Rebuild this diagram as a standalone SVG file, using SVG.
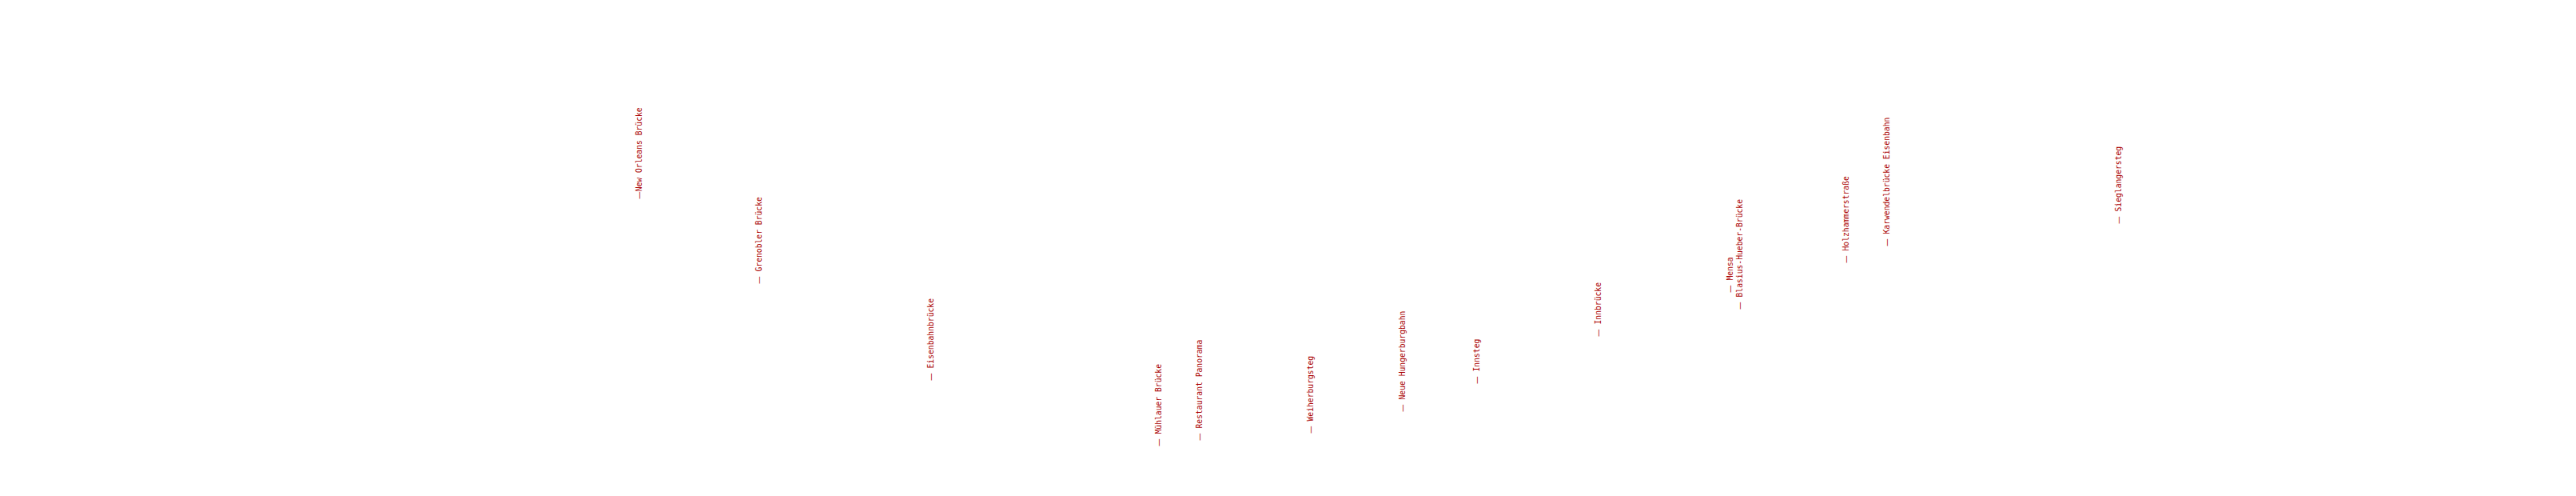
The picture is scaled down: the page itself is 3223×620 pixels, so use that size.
<svg xmlns="http://www.w3.org/2000/svg" width="3223" height="620" viewBox="0 0 3223 620">
<style>
.lbl{font-family:"DejaVu Sans Mono","Liberation Mono",monospace;font-size:9.7px;fill:#aa0000}
.d{font-family:"DejaVu Sans","Liberation Sans",sans-serif}
</style>
<rect width="3223" height="620" fill="#ffffff"/>
<g id="labels">
<g id="new-orleans-bruecke"><text class="lbl" transform="translate(803,249) rotate(-90)"><tspan class="d">—</tspan>New Orleans Brücke</text></g>
<g id="grenobler-bruecke"><text class="lbl" transform="translate(953,355) rotate(-90)"><tspan class="d">—</tspan> Grenobler Brücke</text></g>
<g id="eisenbahnbruecke"><text class="lbl" transform="translate(1168,476) rotate(-90)"><tspan class="d">—</tspan> Eisenbahnbrücke</text></g>
<g id="muehlauer-bruecke"><text class="lbl" transform="translate(1453,558) rotate(-90)"><tspan class="d">—</tspan> Mühlauer Brücke</text></g>
<g id="restaurant-panorama"><text class="lbl" transform="translate(1504,551) rotate(-90)"><tspan class="d">—</tspan> Restaurant Panorama</text></g>
<g id="weiherburgsteg"><text class="lbl" transform="translate(1643,542) rotate(-90)"><tspan class="d">—</tspan> Weiherburgsteg</text></g>
<g id="neue-hungerburgbahn"><text class="lbl" transform="translate(1758,515) rotate(-90)"><tspan class="d">—</tspan> Neue Hungerburgbahn</text></g>
<g id="innsteg"><text class="lbl" transform="translate(1851,480) rotate(-90)"><tspan class="d">—</tspan> Innsteg</text></g>
<g id="innbruecke"><text class="lbl" transform="translate(2003,421) rotate(-90)"><tspan class="d">—</tspan> Innbrücke</text></g>
<g id="mensa"><text class="lbl" transform="translate(2168,366) rotate(-90)"><tspan class="d">—</tspan> Mensa</text></g>
<g id="blasius-hueber-bruecke"><text class="lbl" transform="translate(2180,387) rotate(-90)"><tspan class="d">—</tspan> Blasius-Hueber-Brücke</text></g>
<g id="holzhammerstrasse"><text class="lbl" transform="translate(2313,329) rotate(-90)"><tspan class="d">—</tspan> Holzhammerstraße</text></g>
<g id="karwendelbruecke-eisenbahn"><text class="lbl" transform="translate(2364,308) rotate(-90)"><tspan class="d">—</tspan> Karwendelbrücke Eisenbahn</text></g>
<g id="sieglangersteg"><text class="lbl" transform="translate(2654,280) rotate(-90)"><tspan class="d">—</tspan> Sieglangersteg</text></g>
</g>
</svg>
